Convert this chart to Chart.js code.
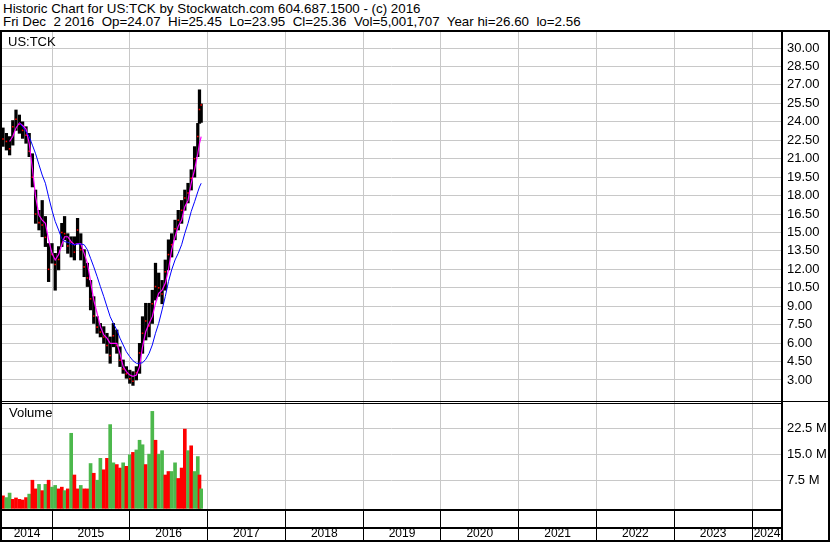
<!DOCTYPE html>
<html><head><meta charset="utf-8">
<script src="https://cdn.jsdelivr.net/npm/chart.js@4.4.1/dist/chart.umd.min.js"></script>
<style>
html,body{margin:0;padding:0;background:#fff;}
#wrap{position:relative;width:830px;height:543px;overflow:hidden;font-family:Arial,"Liberation Sans",sans-serif;color:#000;}
.hdr{position:absolute;left:3px;font-size:13.35px;line-height:13px;white-space:pre;}
#c1{position:absolute;left:0;top:30px;}
#c2{position:absolute;left:0;top:402px;}
.lbl{position:absolute;font-size:13px;line-height:13px;white-space:pre;}
</style></head>
<body><div id="wrap">
<div class="hdr" style="top:2px">Historic Chart for US:TCK by Stockwatch.com 604.687.1500 - (c) 2016</div>
<div class="hdr" style="top:15px">Fri Dec  2 2016  Op=24.07  Hi=25.45  Lo=23.95  Cl=25.36  Vol=5,001,707  Year hi=26.60  lo=2.56</div>
<canvas id="c1" width="830" height="372"></canvas>
<canvas id="c2" width="830" height="141"></canvas>
<div class="lbl" style="left:8px;top:35px">US:TCK</div>
<div class="lbl" style="left:9px;top:406px">Volume</div>
</div>
<script>
// ---- data ----
const dates = ['2014-05-16','2014-06-01','2014-06-16','2014-07-01','2014-07-16','2014-08-01','2014-08-16','2014-09-01','2014-09-16','2014-10-01','2014-10-16','2014-11-01','2014-11-16','2014-12-01','2014-12-16',
'2015-01-01','2015-01-16','2015-02-01','2015-02-16','2015-03-01','2015-03-16','2015-04-01','2015-04-16','2015-05-01','2015-05-16','2015-06-01','2015-06-16','2015-07-01','2015-07-16','2015-08-01','2015-08-16','2015-09-01','2015-09-16','2015-10-01','2015-10-16','2015-11-01','2015-11-16','2015-12-01','2015-12-16',
'2016-01-01','2016-01-16','2016-02-01','2016-02-16','2016-03-01','2016-03-16','2016-04-01','2016-04-16','2016-05-01','2016-05-16','2016-06-01','2016-06-16','2016-07-01','2016-07-16','2016-08-01','2016-08-16','2016-09-01','2016-09-16','2016-10-01','2016-10-16','2016-11-01','2016-11-16','2016-11-24','2016-12-02'];
const highs = [23.5,23.06,22.8,24.1,24.96,24.55,24.0,23.6,23.06,21.4,18.45,16.8,17.6,16.3,14.1,
14.1,13.3,13.85,15.74,16.3,14.9,14.65,14.65,16.15,14.9,13.6,12.5,11.1,9.78,8.15,7.6,7.34,6.8,6.5,7.6,7.07,5.7,4.63,4.09,
3.8,3.68,4.09,5.98,8.15,9.24,9.24,10.3,12.5,11.7,11.1,12.76,14.4,14.9,16.0,16.8,17.6,18.45,19.0,20.1,21.98,23.87,26.6,25.45];
const lows = [22.0,21.7,21.3,22.1,23.3,23.06,22.65,22.25,21.16,18.7,15.74,15.2,14.65,13.85,11.0,
12.5,10.3,11.95,13.85,14.4,13.3,13.0,12.76,14.1,12.76,11.4,10.6,8.7,7.6,6.8,6.5,5.98,5.17,4.36,5.7,5.17,4.09,3.54,3.14,
2.73,2.56,3.0,3.54,5.17,6.25,6.5,7.6,9.5,9.8,9.2,10.3,11.95,13.0,14.4,15.2,15.74,16.8,17.4,18.45,19.5,21.16,23.87,23.95];
const closes = [22.6,22.4,21.8,23.6,24.2,23.8,23.3,22.9,21.6,19.5,16.5,15.8,15.6,14.6,12.0,
13.2,12.4,12.8,15.0,14.9,13.9,14.2,13.4,15.2,13.6,12.2,11.3,9.6,8.2,7.3,6.9,6.5,5.8,5.0,6.6,5.8,4.6,3.9,3.5,
3.1,2.9,3.6,5.2,6.8,7.8,7.4,9.2,10.6,10.5,10.0,11.8,13.2,14.0,15.3,16.0,16.8,17.8,18.2,19.4,21.0,22.8,25.0,25.36];
const avgShort = [null,null,22.4,22.8,23.5,23.9,23.7,23.4,22.25,20.2,17.9,16.4,16.0,15.74,14.4,
13.3,12.76,13.2,14.0,14.65,14.65,14.25,14.0,14.1,14.1,13.3,12.5,11.0,9.5,8.4,7.34,6.66,6.4,5.98,5.98,5.98,5.17,4.09,3.68,
3.4,3.3,3.4,4.09,5.7,6.93,7.6,8.15,9.24,10.05,10.3,10.86,11.95,13.6,14.65,15.5,16.0,17.1,17.6,19.0,20.1,21.4,22.25,22.8];
const avgLong = [null,null,null,null,null,23.9,23.6,23.2,22.8,22.1,21.4,20.5,19.67,19.0,17.9,
16.8,15.9,15.2,14.5,14.25,14.2,14.06,14.0,14.06,14.06,14.0,13.6,12.9,12.2,11.4,10.6,9.78,8.96,8.15,7.6,7.07,6.4,5.85,5.3,
4.9,4.57,4.36,4.36,4.4,4.68,5.17,5.85,6.8,7.6,8.7,9.78,11.0,11.95,12.76,13.3,14.0,14.93,15.74,16.7,17.5,18.3,18.7,19.0];
const volumes = [3.0,2.5,3.8,2.0,2.4,2.0,1.8,2.5,3.5,7.5,5.0,6.3,4.5,6.3,7.5,
5.5,6.0,5.0,5.5,4.5,5.0,21.0,9.0,5.0,6.0,5.0,5.0,12.3,9.5,7.5,13.8,10.5,13.8,23.5,12.5,12.0,11.0,12.5,11.5,
14.8,15.5,16.2,19.0,17.7,12.0,15.0,27.3,19.0,15.0,16.0,9.0,10.0,10.0,12.5,8.0,11.0,22.2,16.0,17.4,10.0,14.3,9.0,5.0];
const volUp = [0,1,1,0,0,0,0,0,1,0,0,1,0,1,0,
1,1,0,0,1,0,1,0,0,1,0,0,1,0,1,1,0,0,1,1,0,0,1,0,
1,0,1,1,1,0,1,1,0,1,1,0,0,1,1,0,0,0,1,0,1,1,0,1];
const priceTicks = [3,4.5,6,7.5,9,10.5,12,13.5,15,16.5,18,19.5,21,22.5,24,25.5,27,28.5,30];
const volumeTicks = [7.5,15,22.5];
const yearLabels = ['2014','2015','2016','2017','2018','2019','2020','2021','2022','2023','2024'];

// ---- setup ----
const X_MIN = 2014.3571, X_MAX = 2024.3857;
const FONT = 'Arial, "Liberation Sans", sans-serif';
const GRID = '#c8c8c8';
function toYear(s){const [y,m,d]=s.split('-').map(Number);const a=Date.UTC(y,0,1),b=Date.UTC(y+1,0,1);return y+(Date.UTC(y,m-1,d)-a)/(b-a);}
const xs = dates.map(toYear);
const yearBounds = yearLabels.slice(1).map(Number);
const labelCenters = yearLabels.map(l=>{const y=Number(l);return (Math.max(X_MIN,y)+Math.min(X_MAX,y+1))/2;});
const isBound = v => yearBounds.some(b=>Math.abs(b-v)<1e-6);
const noPad = s => { s.paddingTop=0; s.paddingBottom=0; s.paddingLeft=0; s.paddingRight=0; };

function framePlugin(name,draw){return {id:name,afterDraw(chart){const c=chart.ctx;c.save();c.fillStyle='#000';draw(c,chart);c.restore();}};}

new Chart(document.getElementById('c1'),{
  type:'bar',
  data:{datasets:[
    {type:'line',data:xs.map((x,i)=>({x,y:avgLong[i]})),borderColor:'#0000ff',borderWidth:1,pointRadius:0,order:1},
    {type:'line',data:xs.map((x,i)=>({x,y:avgShort[i]})),borderColor:'#ff00ff',borderWidth:1.2,pointRadius:0,order:2},
    {type:'line',data:xs.map((x,i)=>({x,y:closes[i]})),showLine:false,pointRadius:1.1,pointStyle:'rect',pointBackgroundColor:'#ff0000',pointBorderWidth:0,order:3},
    {type:'bar',data:xs.map((x,i)=>({x,y:[lows[i],highs[i]]})),backgroundColor:'#000',borderWidth:0,barThickness:2.6,order:4}
  ]},
  options:{
    responsive:false,animation:false,devicePixelRatio:1,
    layout:{autoPadding:false,padding:{left:2,right:0,top:0,bottom:0}},
    plugins:{legend:{display:false},tooltip:{enabled:false}},
    scales:{
      x:{type:'linear',min:X_MIN,max:X_MAX,offset:false,
        afterBuildTicks:s=>{s.ticks=yearBounds.map(v=>({value:v}));},
        afterFit:s=>{s.height=0;noPad(s);},
        ticks:{display:false},grid:{color:GRID,drawTicks:false,offset:false},border:{display:false}},
      y:{type:'linear',position:'right',min:1.2108,max:31.464,
        afterBuildTicks:s=>{s.ticks=priceTicks.map(v=>({value:v}));},
        afterFit:s=>{s.width=48;noPad(s);},
        ticks:{color:'#000',font:{family:FONT,size:13},padding:5,autoSkip:false,callback:v=>Number(v).toFixed(2)},
        grid:{color:GRID,drawTicks:false},border:{color:'#000',width:2}}
    }
  },
  plugins:[framePlugin('frame1',(c,ch)=>{c.fillRect(0,0,830,2);c.fillRect(0,0,2,372);c.fillRect(828,0,2,372);c.fillRect(0,371,830,1);})]
});

new Chart(document.getElementById('c2'),{
  type:'bar',
  data:{datasets:[
    {data:xs.map((x,i)=>({x,y:volumes[i]})),backgroundColor:volUp.map(u=>u?'#4cb84c':'#ff0000'),borderWidth:0,barThickness:3,base:-0.6}
  ]},
  options:{
    responsive:false,animation:false,devicePixelRatio:1,
    layout:{autoPadding:false,padding:{left:2,right:0,top:0,bottom:0}},
    plugins:{legend:{display:false},tooltip:{enabled:false}},
    scales:{
      x:{type:'linear',min:X_MIN,max:X_MAX,offset:false,
        afterBuildTicks:s=>{s.ticks=yearBounds.concat(labelCenters).sort((a,b)=>a-b).map(v=>({value:v}));},
        afterFit:s=>{s.height=33;noPad(s);},
        ticks:{color:'#000',font:{family:FONT,size:12},padding:-15,autoSkip:false,maxRotation:0,
          callback:v=>{const k=labelCenters.findIndex(c=>Math.abs(c-v)<1e-6);return k>=0?yearLabels[k]:'';}},
        grid:{offset:false,tickLength:31,tickWidth:1,
          color:ctx=>ctx.tick&&isBound(ctx.tick.value)?GRID:'rgba(0,0,0,0)',
          tickColor:ctx=>ctx.tick&&isBound(ctx.tick.value)?'#000':'rgba(0,0,0,0)'},
        border:{color:'#000',width:2}},
      y:{type:'linear',position:'right',min:-1.07,max:30,
        afterBuildTicks:s=>{s.ticks=volumeTicks.map(v=>({value:v}));},
        afterFit:s=>{s.width=48;noPad(s);},
        ticks:{color:'#000',font:{family:FONT,size:13},padding:5,callback:v=>Number(v).toFixed(1)+' M'},
        grid:{color:GRID,drawTicks:false},border:{color:'#000',width:2}}
    }
  },
  plugins:[framePlugin('frame2',(c,ch)=>{c.fillRect(0,1,782,1);c.fillRect(0,0,2,140);c.fillRect(828,0,2,140);
    c.fillRect(0,125,782,2);c.fillRect(0,138,830,2);c.fillRect(781,108,2,31);})]
});
</script>
</body></html>
